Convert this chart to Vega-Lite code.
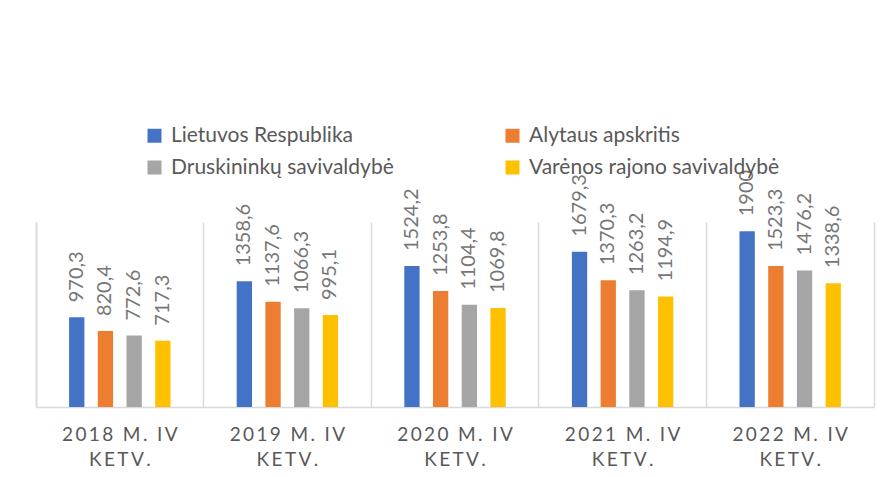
{
  "$schema": "https://vega.github.io/schema/vega-lite/v6.json",
  "width": 838,
  "height": 185,
  "autosize": {"type": "none"},
  "padding": {"left": 36, "top": 222, "right": 15, "bottom": 70},
  "background": "white",
  "config": {
    "view": {"stroke": null},
    "font": "Lato",
    "locale": {"number": {"decimal": ",", "thousands": "", "grouping": [3], "currency": ["", " €"]}}
  },
  "data": {
    "values": [
      {"laikotarpis": "2018 M. IV KETV.", "serija": "Lietuvos Respublika", "reiksme": 970.3},
      {"laikotarpis": "2018 M. IV KETV.", "serija": "Alytaus apskritis", "reiksme": 820.4},
      {"laikotarpis": "2018 M. IV KETV.", "serija": "Druskininkų savivaldybė", "reiksme": 772.6},
      {"laikotarpis": "2018 M. IV KETV.", "serija": "Varėnos rajono savivaldybė", "reiksme": 717.3},
      {"laikotarpis": "2019 M. IV KETV.", "serija": "Lietuvos Respublika", "reiksme": 1358.6},
      {"laikotarpis": "2019 M. IV KETV.", "serija": "Alytaus apskritis", "reiksme": 1137.6},
      {"laikotarpis": "2019 M. IV KETV.", "serija": "Druskininkų savivaldybė", "reiksme": 1066.3},
      {"laikotarpis": "2019 M. IV KETV.", "serija": "Varėnos rajono savivaldybė", "reiksme": 995.1},
      {"laikotarpis": "2020 M. IV KETV.", "serija": "Lietuvos Respublika", "reiksme": 1524.2},
      {"laikotarpis": "2020 M. IV KETV.", "serija": "Alytaus apskritis", "reiksme": 1253.8},
      {"laikotarpis": "2020 M. IV KETV.", "serija": "Druskininkų savivaldybė", "reiksme": 1104.4},
      {"laikotarpis": "2020 M. IV KETV.", "serija": "Varėnos rajono savivaldybė", "reiksme": 1069.8},
      {"laikotarpis": "2021 M. IV KETV.", "serija": "Lietuvos Respublika", "reiksme": 1679.3},
      {"laikotarpis": "2021 M. IV KETV.", "serija": "Alytaus apskritis", "reiksme": 1370.3},
      {"laikotarpis": "2021 M. IV KETV.", "serija": "Druskininkų savivaldybė", "reiksme": 1263.2},
      {"laikotarpis": "2021 M. IV KETV.", "serija": "Varėnos rajono savivaldybė", "reiksme": 1194.9},
      {"laikotarpis": "2022 M. IV KETV.", "serija": "Lietuvos Respublika", "reiksme": 1900},
      {"laikotarpis": "2022 M. IV KETV.", "serija": "Alytaus apskritis", "reiksme": 1523.3},
      {"laikotarpis": "2022 M. IV KETV.", "serija": "Druskininkų savivaldybė", "reiksme": 1476.2},
      {"laikotarpis": "2022 M. IV KETV.", "serija": "Varėnos rajono savivaldybė", "reiksme": 1338.6}
    ]
  },
  "encoding": {
    "x": {
      "field": "laikotarpis",
      "type": "nominal",
      "sort": null,
      "title": null,
      "scale": {"paddingInner": 0, "paddingOuter": 0}
    },
    "xOffset": {
      "field": "serija",
      "type": "nominal",
      "scale": {
        "domain": ["tarpas_kairė", "Lietuvos Respublika", "Alytaus apskritis", "Druskininkų savivaldybė", "Varėnos rajono savivaldybė", "tarpas_dešinė"],
        "paddingInner": 0.467,
        "paddingOuter": 0.153
      }
    },
    "y": {
      "field": "reiksme",
      "type": "quantitative",
      "scale": {"domain": [0, 2000]},
      "title": null
    }
  },
  "layer": [
    {
      "mark": {"type": "bar"},
      "encoding": {
        "x": {
          "field": "laikotarpis",
          "type": "nominal",
          "sort": null,
          "title": null,
          "axis": {
            "labelAngle": 0,
            "labelFontSize": 19,
            "labelColor": "#595959",
            "labelPadding": 18,
            "labelLineHeight": 25,
            "labelLimit": 300,
            "ticks": false,
            "domainColor": "#d9d9d9",
            "domainWidth": 1.5,
            "grid": true,
            "gridColor": "#d9d9d9",
            "gridWidth": 1.5,
            "bandPosition": 0,
            "labelExpr": "[join(split(replace(datum.label, ' KETV.', ''), ''), '\u2009'), join(split('KETV.', ''), '\u2009')]"
          }
        },
        "y": {
          "field": "reiksme",
          "type": "quantitative",
          "title": null,
          "axis": {"orient": "left", "labels": false, "ticks": false, "grid": false, "domain": true, "domainColor": "#d9d9d9", "domainWidth": 1.5}
        },
        "color": {
          "field": "serija",
          "type": "nominal",
          "sort": ["Lietuvos Respublika", "Alytaus apskritis", "Druskininkų savivaldybė", "Varėnos rajono savivaldybė"],
          "scale": {
            "domain": ["Lietuvos Respublika", "Alytaus apskritis", "Druskininkų savivaldybė", "Varėnos rajono savivaldybė"],
            "range": ["#4472C4", "#ED7D31", "#A5A5A5", "#FFC000"]
          },
          "legend": {
            "orient": "none",
            "legendX": 108,
            "legendY": -97,
            "title": null,
            "columns": 2,
            "direction": "horizontal",
            "symbolType": "square",
            "symbolSize": 196,
            "symbolStrokeWidth": 0,
            "symbolOpacity": 1,
            "labelFontSize": 21,
            "labelColor": "#595959",
            "labelOffset": 6,
            "labelLimit": 400,
            "rowPadding": 10,
            "columnPadding": 108
          }
        }
      }
    },
    {
      "mark": {"type": "text", "angle": 270, "align": "left", "baseline": "middle", "dx": 15, "fontSize": 20, "color": "#767676"},
      "encoding": {
        "text": {"field": "reiksme", "type": "quantitative", "format": ".1~f"},
        "y": {
          "field": "reiksme",
          "type": "quantitative",
          "title": null,
          "axis": {"orient": "right", "labels": false, "ticks": false, "grid": false, "domain": true, "domainColor": "#d9d9d9", "domainWidth": 1.5}
        }
      }
    }
  ],
  "resolve": {"axis": {"y": "independent"}}
}
